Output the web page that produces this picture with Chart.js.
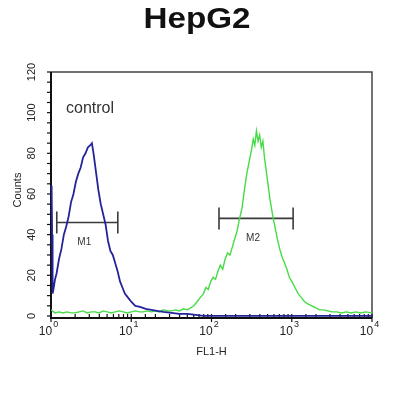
<!DOCTYPE html>
<html>
<head>
<meta charset="utf-8">
<script src="https://cdn.jsdelivr.net/npm/chart.js@4.4.0/dist/chart.umd.min.js"></script>
<style>
    body { margin: 0; background: #fff; }
</style>
</head>
<body>
<canvas id="graphCanvasHepG2" width="400" height="393"></canvas>
<script>
// FL1-H positions are log10 of the channel value
var controlLog = [0.000, 0.008, 0.014, 0.020, 0.03, 0.05, 0.07, 0.10, 0.13, 0.16, 0.19, 0.22, 0.25, 0.28, 0.31, 0.34, 0.37, 0.40, 0.43, 0.46, 0.49,
    0.51, 0.53, 0.56, 0.59, 0.62, 0.65, 0.68, 0.71, 0.74, 0.77, 0.80, 0.83, 0.86, 0.89, 0.92, 0.96, 1.00, 1.05, 1.11, 1.18, 1.25, 1.32, 1.40,
    1.50, 1.60, 1.70, 1.80, 1.90, 2.00, 2.20, 2.40, 2.60, 2.80, 3.00, 3.20, 3.40, 3.60, 3.80, 4.00];
var controlCounts = [64, 62, 40, 11, 13, 18, 21, 28, 33, 40, 44, 49, 56, 60, 66, 70, 73, 78, 80, 83, 84,
    85, 80, 71, 62, 55, 50, 45, 37, 32, 30, 26, 22, 17, 14, 11, 9, 7, 5, 4.5, 3.5, 3, 2.5, 2,
    1.5, 1, 1, 0.5, 0, 0, 0, 0, 0, 0, 0, 0, 0, 0, 0, 0];

var sampleLog = [0.00, 0.05, 0.10, 0.15, 0.20, 0.25, 0.30, 0.35, 0.40, 0.45, 0.50, 0.55, 0.60, 0.65, 0.70, 0.75, 0.80, 0.85, 0.90, 0.95,
    1.00, 1.05, 1.10, 1.15, 1.20, 1.25, 1.30, 1.35, 1.40, 1.45, 1.50, 1.55, 1.60, 1.65, 1.70, 1.74, 1.78, 1.82, 1.86, 1.90,
    1.93, 1.96, 1.99, 2.02, 2.05, 2.08, 2.11, 2.14, 2.17, 2.20, 2.23, 2.26, 2.29, 2.32, 2.35, 2.38, 2.41, 2.44, 2.47, 2.50,
    2.52, 2.54, 2.56, 2.58, 2.60, 2.62, 2.64, 2.66, 2.68, 2.70, 2.73, 2.76, 2.79, 2.82, 2.85, 2.88, 2.91, 2.94, 2.97, 3.00,
    3.04, 3.08, 3.12, 3.16, 3.20, 3.25, 3.30, 3.35, 3.40, 3.45, 3.50, 3.56, 3.62, 3.68, 3.74, 3.80, 3.86, 3.92, 4.00];
var sampleCounts = [3, 1.5, 2, 1.5, 2, 1.5, 1.5, 2, 2.5, 1.5, 2, 2, 1.5, 2.5, 2, 1.5, 2, 2.5, 2, 1.5,
    2, 2.5, 2, 2, 2.5, 2, 2.5, 2, 3, 2.5, 2.5, 3, 2.5, 3.5, 3, 4, 5, 7, 9, 11,
    14, 13, 17, 19, 18, 22, 25, 23, 28, 31, 30, 34, 38, 42, 48, 53, 62, 70, 76, 82,
    87, 84, 91, 86, 89, 83, 86, 78, 72, 66, 57, 50, 44, 38, 33, 29, 26, 23, 19, 17,
    14, 11, 9, 7, 6, 5, 4, 3, 3, 2.5, 2, 2, 1.5, 2, 1.5, 2, 1.5, 2, 1.5];

var gateNames = ['M1', 'M2'];
var gateFrom = [1.18, 124];
var gateTo = [6.8, 1040];
var gateLevel = [46, 48];

var countTicks = [0, 20, 40, 60, 80, 100, 120];
var decadeTicks = [1, 10, 100, 1000, 10000];

var FONT = '"Liberation Sans", Arial, sans-serif';

function toPoints(logs, counts) {
    var pts = [];
    for (var i in logs) {
        pts.push({ x: Math.pow(10, logs[i]), y: counts[i] });
    }
    return pts;
}

// axes, frame and texts drawn from the chart scales
var flowDecor = {
    id: 'flowDecor',
    beforeDatasetsDraw: function(chart) {
        var ctx = chart.ctx;
        var area = chart.chartArea;
        var xs = chart.scales.x;
        var ys = chart.scales.y;
        ctx.save();

        // frame
        ctx.strokeStyle = '#444';
        ctx.lineWidth = 1.5;
        ctx.beginPath();
        ctx.moveTo(area.left, area.top);
        ctx.lineTo(area.right, area.top);
        ctx.lineTo(area.right, area.bottom);
        ctx.stroke();

        // axis lines
        ctx.strokeStyle = '#111';
        ctx.lineWidth = 2;
        ctx.beginPath();
        ctx.moveTo(area.left, area.top);
        ctx.lineTo(area.left, area.bottom);
        ctx.lineTo(area.right, area.bottom);
        ctx.stroke();

        // y ticks every 5
        ctx.lineWidth = 1.2;
        for (var v = 0; v <= 120; v += 5) {
            var py = ys.getPixelForValue(v);
            ctx.beginPath();
            ctx.moveTo(area.left - 4, py);
            ctx.lineTo(area.left, py);
            ctx.stroke();
        }

        // x ticks from the log scale
        xs.ticks.forEach(function(t) {
            var px = xs.getPixelForValue(t.value);
            var isMajor = decadeTicks.indexOf(t.value) >= 0;
            ctx.beginPath();
            ctx.moveTo(px, area.bottom - 4);
            ctx.lineTo(px, area.bottom + (isMajor ? 4 : 0));
            ctx.stroke();
        });
        ctx.restore();
    },
    afterDraw: function(chart) {
        var ctx = chart.ctx;
        var area = chart.chartArea;
        var xs = chart.scales.x;
        var ys = chart.scales.y;
        ctx.save();

        ctx.fillStyle = '#222';
        ctx.font = '11px ' + FONT;
        ctx.textAlign = 'center';
        ctx.textBaseline = 'middle';
        countTicks.forEach(function(c) {
            ctx.save();
            ctx.translate(32, ys.getPixelForValue(c));
            ctx.rotate(-Math.PI / 2);
            ctx.fillText(String(c), 0, 0);
            ctx.restore();
        });

        decadeTicks.forEach(function(d, i) {
            var px = xs.getPixelForValue(d);
            ctx.font = '12px ' + FONT;
            var w1 = ctx.measureText('10').width;
            ctx.font = '9px ' + FONT;
            var w2 = ctx.measureText(String(i)).width;
            var left = px - 3 - (w1 + w2) / 2;
            ctx.textAlign = 'left';
            ctx.textBaseline = 'alphabetic';
            ctx.font = '12px ' + FONT;
            ctx.fillText('10', left, 335);
            ctx.font = '9px ' + FONT;
            ctx.fillText(String(i), left + w1 + 1, 327);
        });

        // axis titles
        ctx.textAlign = 'center';
        ctx.textBaseline = 'middle';
        ctx.font = '11px ' + FONT;
        ctx.fillText('FL1-H', (area.left + area.right) / 2, 352);
        ctx.save();
        ctx.translate(18, 190);
        ctx.rotate(-Math.PI / 2);
        ctx.fillText('Counts', 0, 0);
        ctx.restore();

        // gate names
        ctx.fillStyle = '#333';
        ctx.font = '10px ' + FONT;
        gateNames.forEach(function(n, i) {
            var mid = Math.sqrt(gateFrom[i] * gateTo[i]);
            ctx.fillText(n, xs.getPixelForValue(mid) - 3, ys.getPixelForValue(gateLevel[i]) + 20);
        });

        // control label
        ctx.textAlign = 'left';
        ctx.textBaseline = 'alphabetic';
        ctx.font = '16px ' + FONT;
        ctx.fillText('control', 66, 113);

        // title
        ctx.fillStyle = '#111';
        ctx.font = 'bold 29px ' + FONT;
        var tw = ctx.measureText('HepG2').width;
        ctx.translate(197, 28);
        ctx.scale(107 / tw, 1);
        ctx.textAlign = 'center';
        ctx.fillText('HepG2', 0, 0);

        ctx.restore();
    }
};

function showGraphHepG2() {
    var datasets = [{
        label: 'control',
        data: toPoints(controlLog, controlCounts),
        borderColor: '#24249a',
        borderWidth: 1.8,
        pointRadius: 0,
        tension: 0,
        clip: 4
    }, {
        label: 'HepG2',
        data: toPoints(sampleLog, sampleCounts),
        borderColor: '#45dc45',
        borderWidth: 1.4,
        pointRadius: 0,
        tension: 0
    }];

    for (var i in gateNames) {
        datasets.push({
            label: gateNames[i],
            data: [{ x: gateFrom[i], y: gateLevel[i] }, { x: gateTo[i], y: gateLevel[i] }],
            borderColor: '#3a3a3a',
            borderWidth: 1.6,
            pointStyle: 'line',
            pointRotation: 90,
            pointRadius: 11,
            pointBorderWidth: 1.6,
            pointBorderColor: '#3a3a3a'
        });
    }

    var graphTarget = document.getElementById('graphCanvasHepG2');

    var flowGraph = new Chart(graphTarget, {
        type: 'line',
        data: { datasets: datasets },
        options: {
            responsive: false,
            animation: false,
            events: [],
            layout: { padding: { left: 0, right: 28, top: 72, bottom: 0 } },
            plugins: { legend: { display: false }, tooltip: { enabled: false } },
            scales: {
                x: {
                    type: 'logarithmic',
                    min: 1,
                    max: 10000,
                    grid: { display: false },
                    border: { display: false },
                    ticks: { display: false },
                    afterFit: function(scale) { scale.height = 75; }
                },
                y: {
                    min: -1,
                    max: 120,
                    grid: { display: false },
                    border: { display: false },
                    ticks: { display: false },
                    afterFit: function(scale) { scale.width = 51; }
                }
            }
        },
        plugins: [flowDecor]
    });
}

showGraphHepG2();
</script>
</body>
</html>
